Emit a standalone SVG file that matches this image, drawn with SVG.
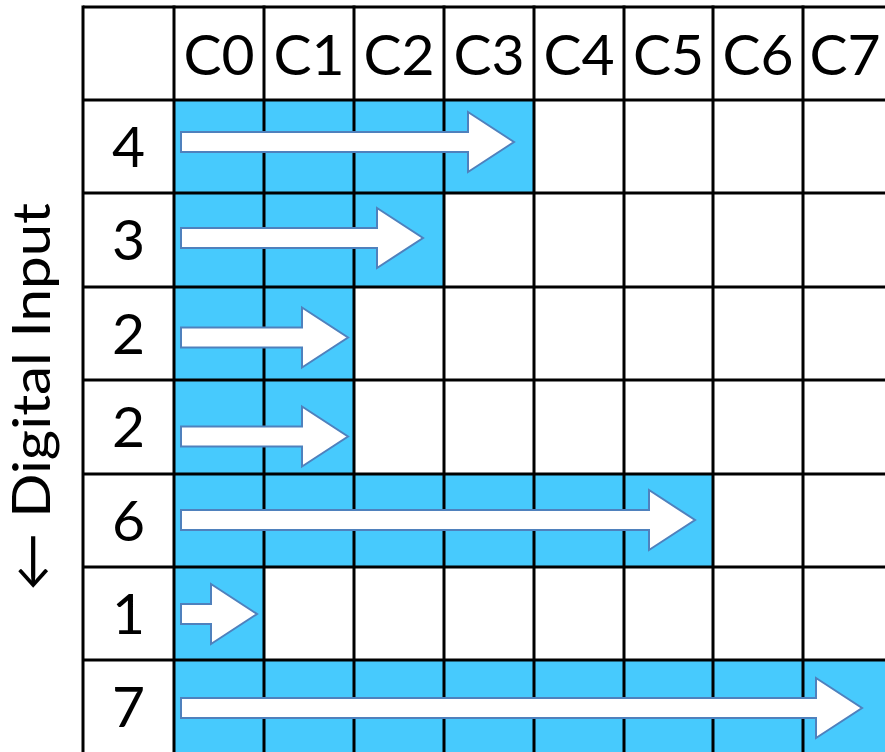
<svg xmlns="http://www.w3.org/2000/svg" width="885" height="752" viewBox="0 0 885 752">
<style>
.fill{fill:#47CAFD;}
.grid line{stroke:#000;stroke-width:3;}
.arr{fill:#fff;stroke:#4F81BD;stroke-width:2;stroke-linejoin:miter;}
.t{font-family:Lato,"Liberation Sans",sans-serif;font-size:57px;fill:#000;text-anchor:middle;}
</style>
<rect x="0" y="0" width="885" height="752" fill="#fff"/>
<g id="fills">
<rect class="fill" x="174" y="100" width="360" height="93"/>
<rect class="fill" x="174" y="193" width="270" height="94"/>
<rect class="fill" x="174" y="287" width="180" height="93"/>
<rect class="fill" x="174" y="380" width="180" height="94"/>
<rect class="fill" x="174" y="474" width="539" height="93"/>
<rect class="fill" x="174" y="567" width="90" height="93"/>
<rect class="fill" x="174" y="660" width="711" height="92"/>
</g>
<g id="grid" class="grid">
<line x1="83" y1="7" x2="885" y2="7"/>
<line x1="83" y1="100" x2="885" y2="100"/>
<line x1="83" y1="193" x2="885" y2="193"/>
<line x1="83" y1="287" x2="885" y2="287"/>
<line x1="83" y1="380" x2="885" y2="380"/>
<line x1="83" y1="474" x2="885" y2="474"/>
<line x1="83" y1="567" x2="885" y2="567"/>
<line x1="83" y1="660" x2="885" y2="660"/>
<line x1="83" y1="5.5" x2="83" y2="752"/>
<line x1="174" y1="5.5" x2="174" y2="752"/>
<line x1="264" y1="5.5" x2="264" y2="752"/>
<line x1="354" y1="5.5" x2="354" y2="752"/>
<line x1="444" y1="5.5" x2="444" y2="752"/>
<line x1="534" y1="5.5" x2="534" y2="752"/>
<line x1="624" y1="5.5" x2="624" y2="752"/>
<line x1="713" y1="5.5" x2="713" y2="752"/>
<line x1="803" y1="5.5" x2="803" y2="752"/>
</g>
<g id="header">
<text class="t" x="219" y="75">C0</text>
<text class="t" x="309" y="75">C1</text>
<text class="t" x="399" y="75">C2</text>
<text class="t" x="489" y="75">C3</text>
<text class="t" x="579" y="75">C4</text>
<text class="t" x="668.5" y="75">C5</text>
<text class="t" x="758" y="75">C6</text>
<text class="t" x="845" y="75">C7</text>
</g>
<g id="row1">
<text class="t" x="128.5" y="167">4</text>
<polygon class="arr" points="181,132 468,132 468,112 514,142 468,172 468,152 181,152"/>
</g>
<g id="row2">
<text class="t" x="128.5" y="260">3</text>
<polygon class="arr" points="181,228 377,228 377,208 423,238 377,268 377,248 181,248"/>
</g>
<g id="row3">
<text class="t" x="128.5" y="354">2</text>
<polygon class="arr" points="181,327.5 302,327.5 302,307.5 348,337.5 302,367.5 302,347.5 181,347.5"/>
</g>
<g id="row4">
<text class="t" x="128.5" y="447">2</text>
<polygon class="arr" points="181,426.5 302,426.5 302,406.5 348,436.5 302,466.5 302,446.5 181,446.5"/>
</g>
<g id="row5">
<text class="t" x="128.5" y="541">6</text>
<polygon class="arr" points="181,510 649,510 649,490 695,520 649,550 649,530 181,530"/>
</g>
<g id="row6">
<text class="t" x="128.5" y="634">1</text>
<polygon class="arr" points="181,604 211,604 211,584 257,614 211,644 211,624 181,624"/>
</g>
<g id="row7">
<text class="t" x="128.5" y="727">7</text>
<polygon class="arr" points="181,698 816,698 816,678 862,708 816,738 816,718 181,718"/>
</g>
<g id="axis-label">
<text class="t" transform="translate(50,397) rotate(-90)" x="0" y="0" style="font-size:52px" textLength="388" lengthAdjust="spacingAndGlyphs">← Digital Input</text>
</g>
</svg>
